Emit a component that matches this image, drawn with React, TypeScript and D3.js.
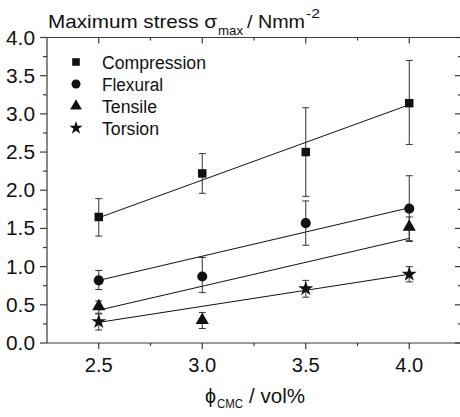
import React from "react";
import * as d3 from "d3";

const xCats = [2.5, 3.0, 3.5, 4.0];
const seriesNames = ["Compression", "Flexural", "Tensile", "Torsion"];

// values per x (null = no point)
const compression = [1.65, 2.22, 2.5, 3.14];
const compressionLo = [1.4, 1.96, 1.92, 2.6];
const compressionHi = [1.89, 2.48, 3.08, 3.7];

const flexural = [0.82, 0.87, 1.57, 1.76];
const flexuralLo = [0.7, 0.66, 1.28, 1.33];
const flexuralHi = [0.95, 1.12, 1.86, 2.19];

const tensile = [0.48, 0.3, null, 1.52];
const tensileLo = [0.39, 0.19, null, 1.34];
const tensileHi = [0.55, 0.4, null, 1.65];

const torsion = [0.28, null, 0.71, 0.9];
const torsionLo = [0.17, null, 0.6, 0.8];
const torsionHi = [0.38, null, 0.82, 1.0];

// linear fit endpoints at x = 2.5 and x = 4.0
const fitX = [2.5, 4.0];
const compressionFit = [1.64, 3.12];
const flexuralFit = [0.82, 1.77];
const tensileFit = [0.43, 1.37];
const torsionFit = [0.27, 0.9];

const yTicks = [0, 0.5, 1, 1.5, 2, 2.5, 3, 3.5, 4];
const yMinor = [0.25, 0.75, 1.25, 1.75, 2.25, 2.75, 3.25, 3.75];
const xTicks = [2.5, 3.0, 3.5, 4.0];
const xMinor = [2.75, 3.25, 3.75];

const W = 460;
const H = 417;
const left = 47;
const right = 461;
const top = 37.5;
const bottom = 343;

const FONT = "'Liberation Sans', Arial, sans-serif";
const legendWidths = [104, 61, 55, 57];

const T = ({ x, y, size = 17, anchor = "start", len, children }: any) => (
  <text
    x={x}
    y={y}
    fontFamily={FONT}
    fontSize={size}
    textAnchor={anchor}
    fill="#111"
    textLength={len}
    lengthAdjust={len ? "spacingAndGlyphs" : undefined}
  >
    {children}
  </text>
);

export default function App() {
  const x = d3.scaleLinear().domain([2.25, 4.25]).range([left, right]);
  const y = d3.scaleLinear().domain([0, 4]).range([bottom, top]);

  const series = [
    { name: seriesNames[0], v: compression, lo: compressionLo, hi: compressionHi, fit: compressionFit, sym: d3.symbolSquare, size: 72 },
    { name: seriesNames[1], v: flexural, lo: flexuralLo, hi: flexuralHi, fit: flexuralFit, sym: d3.symbolCircle, size: 80 },
    { name: seriesNames[2], v: tensile, lo: tensileLo, hi: tensileHi, fit: tensileFit, sym: d3.symbolTriangle, size: 75 },
    { name: seriesNames[3], v: torsion, lo: torsionLo, hi: torsionHi, fit: torsionFit, sym: d3.symbolStar, size: 70 },
  ];

  const line = d3.line<number>().x((_, i) => x(fitX[i])).y((d) => y(d));
  const axisColor = "#3a3a3a";
  const cap = 3.5;

  return (
    <svg width={W} height={H} style={{ position: "absolute", left: 0, top: 0 }}>
      <rect width={W} height={H} fill="#fff" />
      {/* fit lines */}
      {series.map((s) => (
        <path key={"f" + s.name} d={line(s.fit) || ""} fill="none" stroke="#111" strokeWidth={1} />
      ))}
      {/* error bars */}
      {series.map((s) =>
        xCats.map((c, i) =>
          s.v[i] == null ? null : (
            <g key={s.name + "e" + i} stroke="#333" strokeWidth={1}>
              <line x1={x(c)} x2={x(c)} y1={y(s.lo[i] as number)} y2={y(s.hi[i] as number)} />
              <line x1={x(c) - cap} x2={x(c) + cap} y1={y(s.lo[i] as number)} y2={y(s.lo[i] as number)} />
              <line x1={x(c) - cap} x2={x(c) + cap} y1={y(s.hi[i] as number)} y2={y(s.hi[i] as number)} />
            </g>
          )
        )
      )}
      {/* markers */}
      {series.map((s) =>
        xCats.map((c, i) =>
          s.v[i] == null ? null : (
            <path
              key={s.name + "m" + i}
              transform={`translate(${x(c)},${y(s.v[i] as number)})`}
              d={d3.symbol().type(s.sym).size(s.size)() || ""}
              fill="#111"
            />
          )
        )
      )}
      {/* axes frame */}
      <g stroke={axisColor} strokeWidth={1.2} fill="none">
        <line x1={left} x2={left} y1={top} y2={bottom} />
        <line x1={left} x2={right} y1={bottom} y2={bottom} />
        <line x1={left} x2={right} y1={top} y2={top} />
        <line x1={right} x2={right} y1={top} y2={bottom} />
        {yTicks.map((t) => (
          <g key={"yt" + t}>
            <line x1={left - 7} x2={left} y1={y(t)} y2={y(t)} />
            <line x1={right - 6} x2={right} y1={y(t)} y2={y(t)} />
          </g>
        ))}
        {yMinor.map((t) => (
          <g key={"ym" + t}>
            <line x1={left - 4} x2={left} y1={y(t)} y2={y(t)} />
            <line x1={right - 3} x2={right} y1={y(t)} y2={y(t)} />
          </g>
        ))}
        {xTicks.map((t) => (
          <g key={"xt" + t}>
            <line x1={x(t)} x2={x(t)} y1={bottom} y2={bottom + 6} />
            <line x1={x(t)} x2={x(t)} y1={top} y2={top + 6} />
          </g>
        ))}
        {xMinor.map((t) => (
          <g key={"xm" + t}>
            <line x1={x(t)} x2={x(t)} y1={bottom} y2={bottom + 3} />
            <line x1={x(t)} x2={x(t)} y1={top} y2={top + 3} />
          </g>
        ))}
      </g>
      {/* tick labels */}
      {yTicks.map((t) => (
        <T key={"yl" + t} x={6} y={y(t) + 7} size={20} len={29}>
          {d3.format(".1f")(t)}
        </T>
      ))}
      {xTicks.map((t) => (
        <T key={"xl" + t} x={x(t) - 14} y={371.5} size={20} len={28}>
          {d3.format(".1f")(t)}
        </T>
      ))}
      {/* y title */}
      <T x={48} y={27.5} size={19} len={169}>Maximum stress σ</T>
      <T x={218} y={34.5} size={13} len={25}>max</T>
      <T x={247} y={27.5} size={19} len={58}>/ Nmm</T>
      <T x={306} y={18} size={13} len={14}>-2</T>
      {/* x title */}
      <T x={205} y={403} size={20} len={11}>ϕ</T>
      <T x={217} y={408} size={13} len={26}>CMC</T>
      <T x={249} y={403} size={20} len={56}>/ vol%</T>
      {/* legend */}
      {series.map((s, i) => (
        <g key={"lg" + s.name}>
          <path
            transform={`translate(76,${62 + i * 22})`}
            d={d3.symbol().type(s.sym).size(s.size * 0.8)() || ""}
            fill="#111"
          />
          <T x={102} y={68.5 + i * 22} size={18} len={legendWidths[i]}>{s.name}</T>
        </g>
      ))}
    </svg>
  );
}
